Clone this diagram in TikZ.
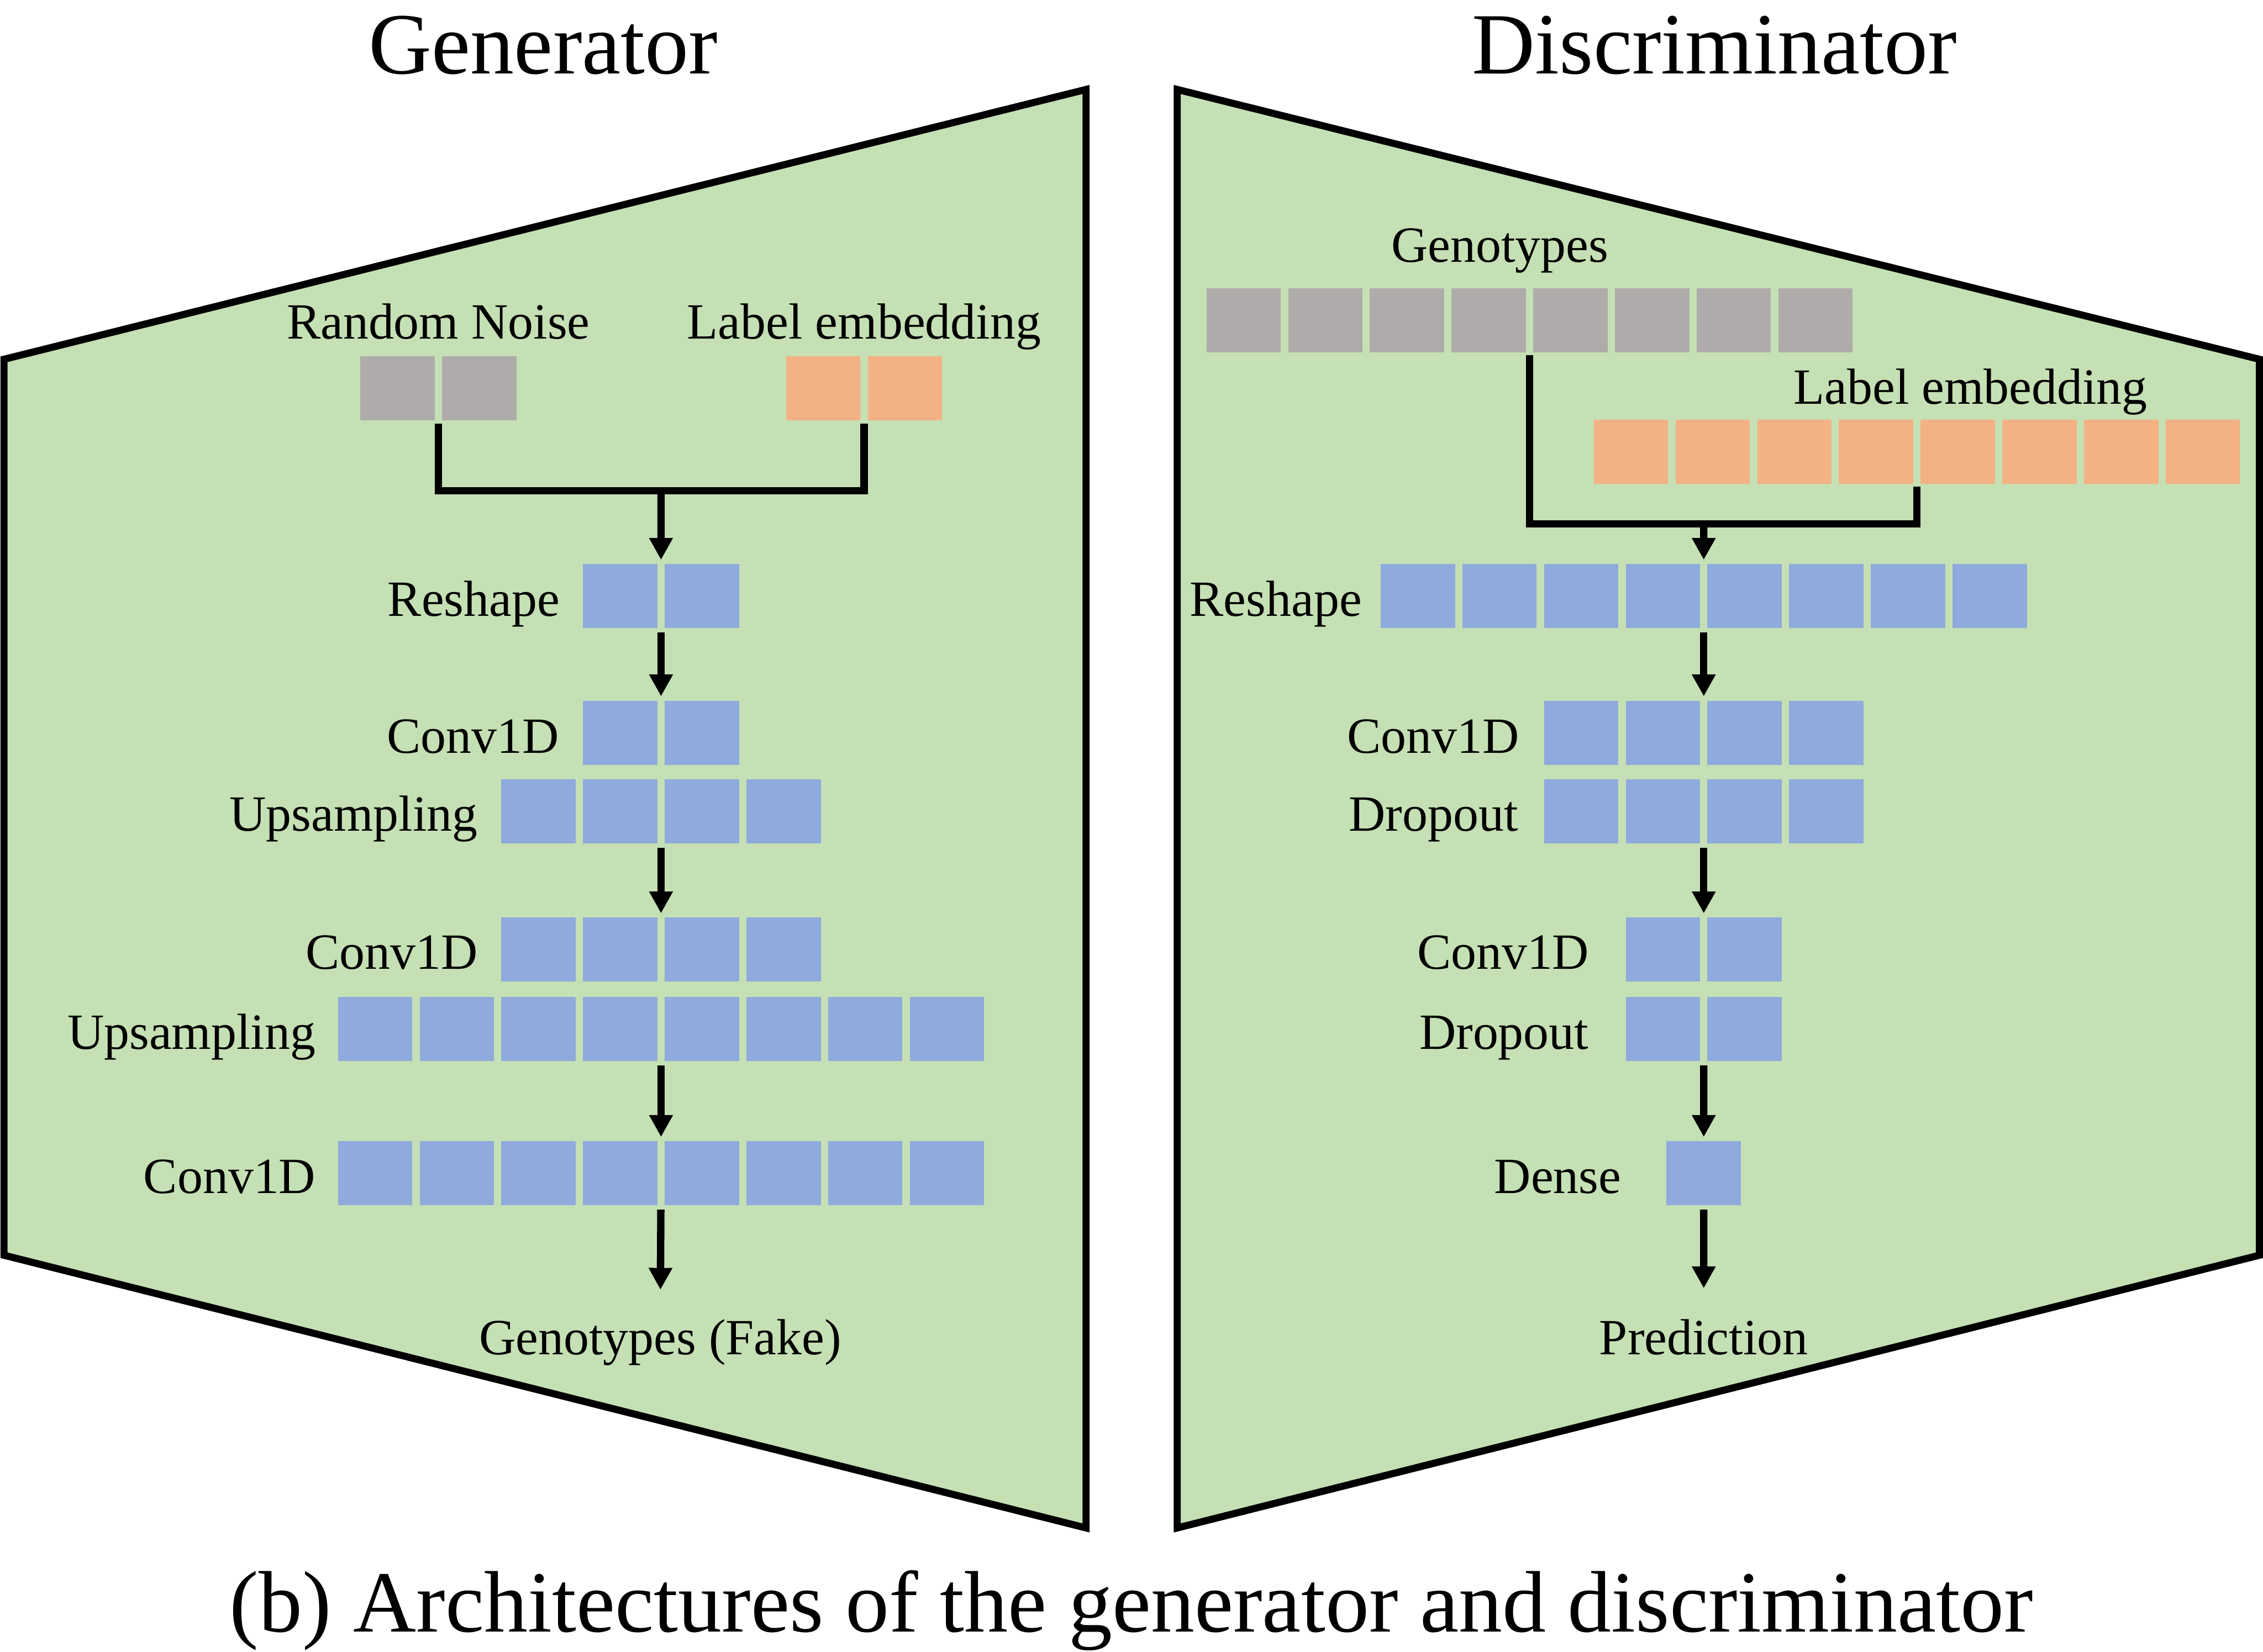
\documentclass[tikz,border=0pt]{standalone}
\usepackage{fontspec}
\setmainfont{Liberation Serif}
\usetikzlibrary{arrows.meta, fit}
\definecolor{panelGreen}{HTML}{C5E0B4}
\definecolor{cellGray}{HTML}{AFABAB}
\definecolor{cellOrange}{HTML}{F4B183}
\definecolor{cellBlue}{HTML}{8FAADC}

% #1 name, #2 centre x, #3 top y, #4 number of cells, #5 colour
\newcommand{\cellrow}[5]{%
  \foreach \k in {1,...,#4}
    \node[cell, fill=#5] (#1-\k) at ({#2-(#4*56.6-5.1)/2+(\k-1)*56.6}, #3) {};
  \node[fit=(#1-1)(#1-#4), inner sep=0pt, outer sep=0pt] (#1) {};
}

\begin{document}
\begin{tikzpicture}[
    x=0.01cm, y=-0.01cm,
    panel/.style={draw, fill=panelGreen, line width=1.4pt},
    cell/.style={anchor=north west, minimum width=0.515cm, minimum height=0.444cm, inner sep=0pt, outer sep=0pt},
    lbl/.style={inner sep=0pt, font=\fontsize{10}{12}\selectfont},
    heading/.style={inner sep=0pt, font=\fontsize{17.2}{20}\selectfont},
    link/.style={line width=1.45pt, shorten <=0.02cm, shorten >=0.02cm},
    arrow/.style={-{Triangle[length=4.3pt, width=4.4pt]}, line width=1.45pt, shorten <=0.03cm, shorten >=0.03cm},
]
    \useasboundingbox (0,0) rectangle (1568,1145);

    \draw[panel] (2.8,249) -- (752.5,62) -- (752.5,1059) -- (2.8,870) -- cycle;
    \draw[panel] (815.7,62) -- (1565.5,249) -- (1565.5,870) -- (815.7,1059) -- cycle;

    \node[heading, anchor=base] (gentitle) at (376.5, 51) {Generator};
    \node[heading, anchor=base] (distitle) at (1188, 51) {Discriminator};
    \node[heading, anchor=base] (caption) at (784, 1131) {(b) Architectures of the generator and discriminator};

    % generator
    \cellrow{gnoise}{303.7}{247}{2}{cellGray}
    \cellrow{gembed}{598.7}{247}{2}{cellOrange}
    \cellrow{greshape}{458}{391}{2}{cellBlue}
    \cellrow{gconv1}{458}{485.6}{2}{cellBlue}
    \cellrow{gup1}{458}{540}{4}{cellBlue}
    \cellrow{gconv2}{458}{636}{4}{cellBlue}
    \cellrow{gup2}{458}{691}{8}{cellBlue}
    \cellrow{gconv3}{458}{791}{8}{cellBlue}

    \node[lbl, anchor=base] (gnoise-lbl) at (303.7, 235) {Random Noise};
    \node[lbl, anchor=base] (gembed-lbl) at (598.7, 235) {Label embedding};
    \node[lbl, anchor=base east] (greshape-lbl) at (388.5, 427) {Reshape};
    \node[lbl, anchor=base east] (gconv1-lbl) at (388, 522) {Conv1D};
    \node[lbl, anchor=base east] (gup1-lbl) at (331.7, 576) {Upsampling};
    \node[lbl, anchor=base east] (gconv2-lbl) at (331.7, 671.5) {Conv1D};
    \node[lbl, anchor=base east] (gup2-lbl) at (219.4, 727) {Upsampling};
    \node[lbl, anchor=base east] (gconv3-lbl) at (219.4, 827) {Conv1D};
    \node[lbl, anchor=base] (gfake) at (457.5, 939) {Genotypes (Fake)};

    \coordinate (gjoin) at (458, 340);
    \draw[link] (gnoise.south) |- (gjoin) -| (gembed.south);
    \draw[arrow, shorten <=0pt] (gjoin) -- (greshape);
    \draw[arrow] (greshape) -- (gconv1);
    \draw[arrow] (gup1) -- (gconv2);
    \draw[arrow] (gup2) -- (gconv3);
    \draw[arrow, shorten >=0.2cm] (gconv3) -- (gfake.north);

    % discriminator
    \cellrow{dgeno}{1059.8}{199.8}{8}{cellGray}
    \cellrow{dembed}{1328.2}{291}{8}{cellOrange}
    \cellrow{dreshape}{1180.5}{391}{8}{cellBlue}
    \cellrow{dconv1}{1180.5}{485.6}{4}{cellBlue}
    \cellrow{ddrop1}{1180.5}{540}{4}{cellBlue}
    \cellrow{dconv2}{1180.5}{636}{2}{cellBlue}
    \cellrow{ddrop2}{1180.5}{691}{2}{cellBlue}
    \cellrow{ddense}{1180.5}{791}{1}{cellBlue}

    \node[lbl, anchor=base] (dgeno-lbl) at (1039.3, 181.5) {Genotypes};
    \node[lbl, anchor=base] (dembed-lbl) at (1365.3, 280) {Label embedding};
    \node[lbl, anchor=base east] (dreshape-lbl) at (944.3, 427) {Reshape};
    \node[lbl, anchor=base east] (dconv1-lbl) at (1053.3, 522) {Conv1D};
    \node[lbl, anchor=base east] (ddrop1-lbl) at (1052.5, 576) {Dropout};
    \node[lbl, anchor=base east] (dconv2-lbl) at (1101.8, 671.5) {Conv1D};
    \node[lbl, anchor=base east] (ddrop2-lbl) at (1101.4, 727) {Dropout};
    \node[lbl, anchor=base east] (ddense-lbl) at (1124, 827) {Dense};
    \node[lbl, anchor=base] (dpred) at (1180.5, 939) {Prediction};

    \coordinate (djoin) at (1180.5, 363);
    \draw[link] (dgeno.south) |- (djoin) -| (dembed.south);
    \draw[arrow, shorten <=0pt] (djoin) -- (dreshape);
    \draw[arrow] (dreshape) -- (dconv1);
    \draw[arrow] (ddrop1) -- (dconv2);
    \draw[arrow] (ddrop2) -- (ddense);
    \draw[arrow, shorten >=0.21cm] (ddense) -- (dpred.north);
\end{tikzpicture}
\end{document}
